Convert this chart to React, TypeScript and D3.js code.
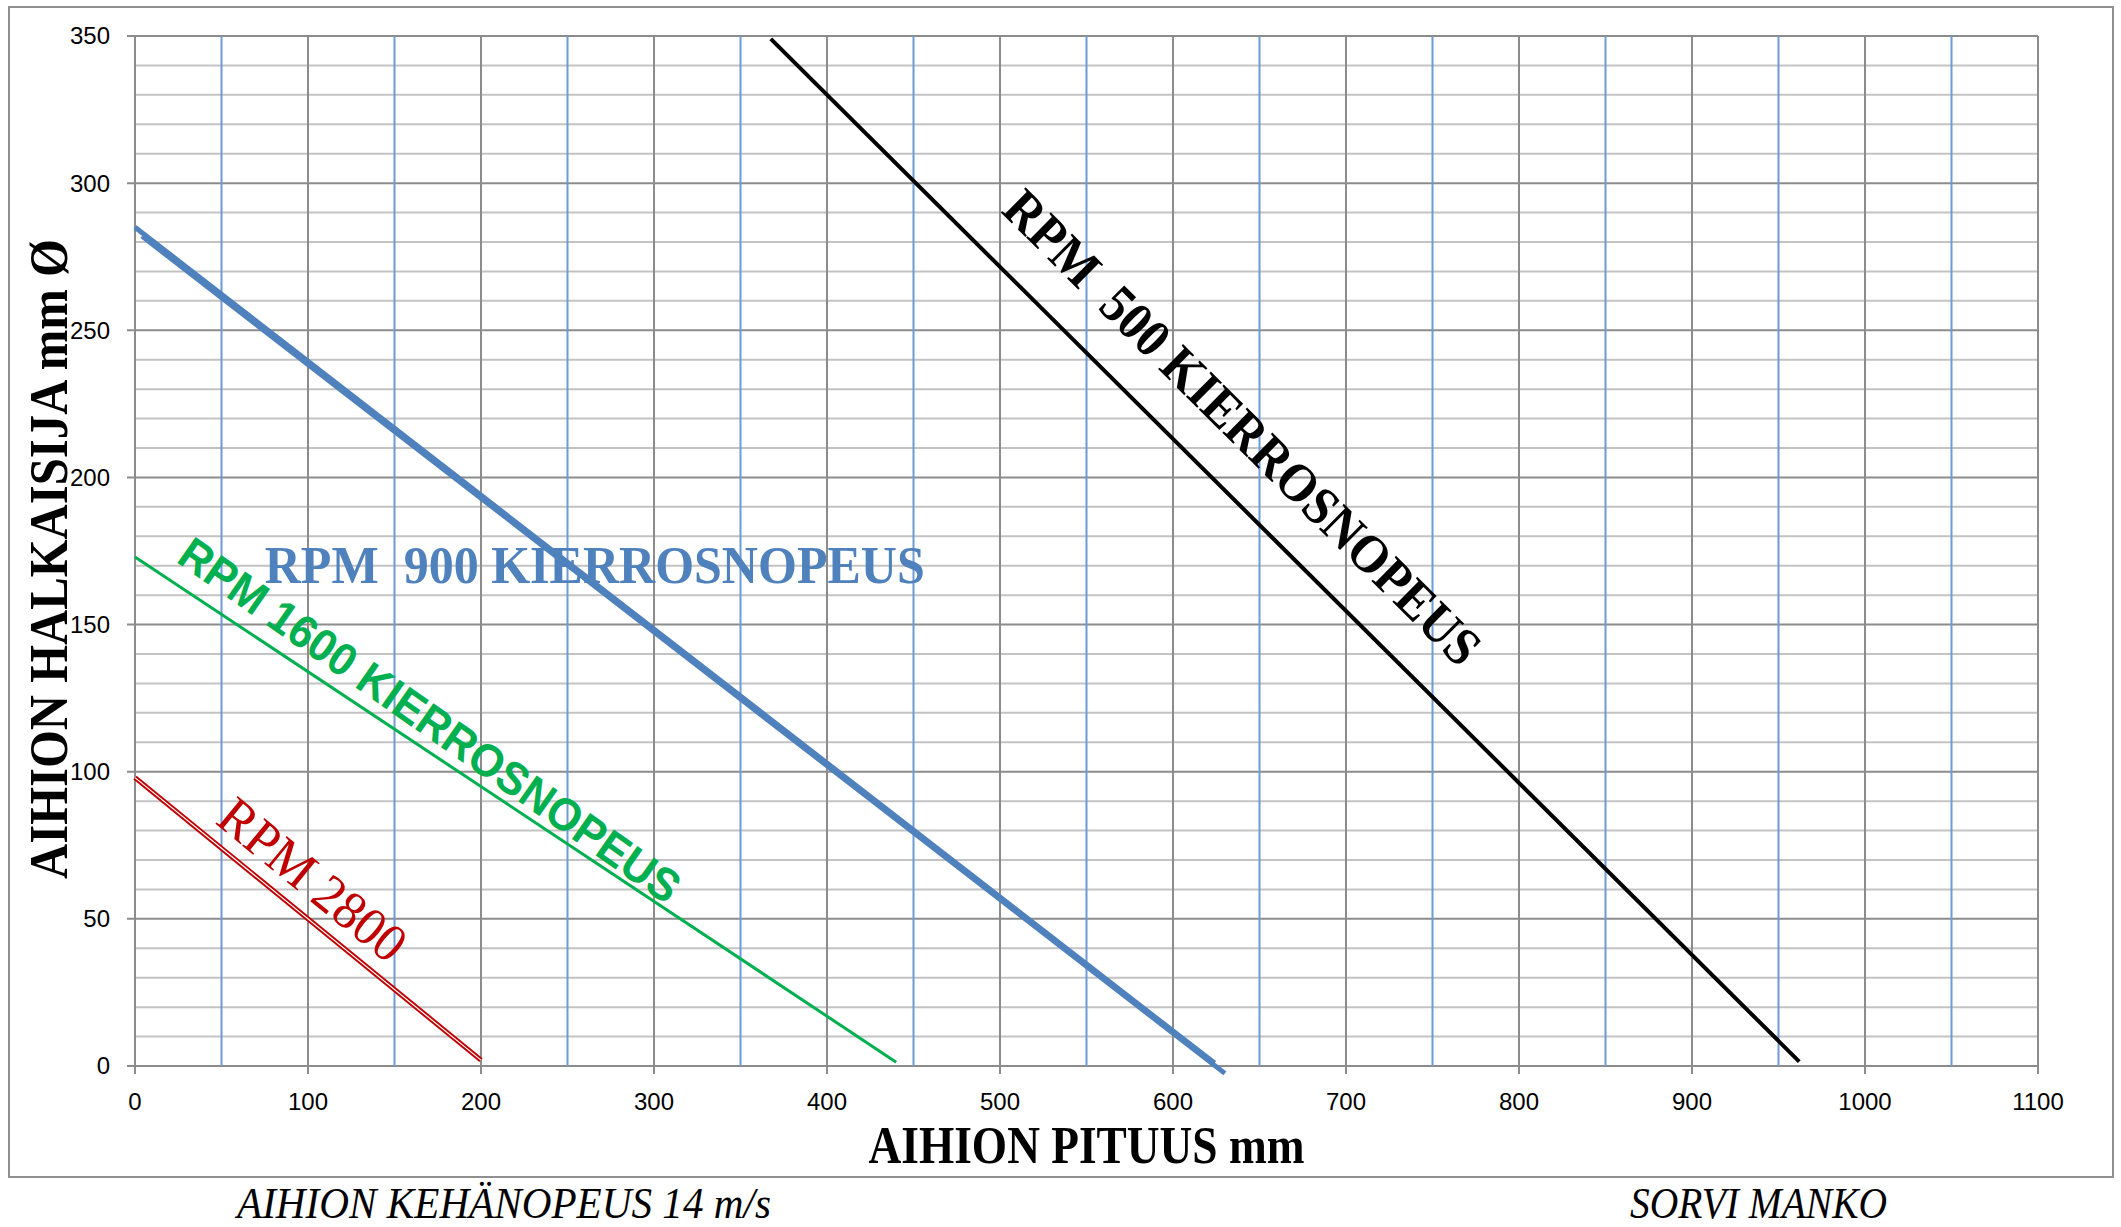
import * as d3 from "d3";

// Axis ticks
const xTickValues = [0, 100, 200, 300, 400, 500, 600, 700, 800, 900, 1000, 1100];
const xBlueLines = [50, 150, 250, 350, 450, 550, 650, 750, 850, 950, 1050];
const yTickValues = [0, 50, 100, 150, 200, 250, 300, 350];
const yMinorLines = [10, 20, 30, 40, 60, 70, 80, 90, 110, 120, 130, 140, 160, 170, 180, 190,
  210, 220, 230, 240, 260, 270, 280, 290, 310, 320, 330, 340];

// Series (AIHION PITUUS mm -> AIHION HALKAISIJA mm)
const rpm500 = [{ x: 367.5, y: 349 }, { x: 962, y: 1.5 }];
const rpm900 = [{ x: 0, y: 285 }, { x: 624, y: 1 }];
const rpm900b = [{ x: 4, y: 282 }, { x: 630, y: -2.5 }];
const rpm1600 = [{ x: 0, y: 173 }, { x: 440, y: 1.3 }];
const rpm2800 = [{ x: 0, y: 98 }, { x: 200, y: 2 }];

// Label texts
const label500 = "RPM  500 KIERROSNOPEUS";
const label900 = "RPM  900 KIERROSNOPEUS";
const label1600 = "RPM 1600 KIERROSNOPEUS";
const label2800 = "RPM 2800";

const W = 2121;
const H = 1227;
const margin = { left: 135, right: 83, top: 36, bottom: 161 };

type P = { x: number; y: number };

const App = () => {
  const x = d3.scaleLinear().domain([0, 1100]).range([margin.left, W - margin.right]);
  const y = d3.scaleLinear().domain([0, 350]).range([H - margin.bottom, margin.top]);
  const line = d3.line<P>().x(d => x(d.x)).y(d => y(d.y));

  const angle = (s: P[]) =>
    (Math.atan2(y(s[1].y) - y(s[0].y), x(s[1].x) - x(s[0].x)) * 180) / Math.PI;

  const serif = "'Liberation Serif', 'DejaVu Serif', serif";
  const sans = "'Liberation Sans', Arial, sans-serif";
  const grid = "#8c8c8c";
  const minor = "#c3c3c3";
  const blueGrid = "#6d9bd5";

  return (
    <svg width={W} height={H} style={{ position: "absolute", left: 0, top: 0, background: "#fff" }}>
      <rect x={9} y={7} width={2104} height={1170} fill="#fff" stroke="#8f8f8f" strokeWidth={2} />

      {/* horizontal grid */}
      {yMinorLines.map(v => (
        <line key={"m" + v} x1={x(0)} x2={x(1100)} y1={y(v)} y2={y(v)} stroke={minor} strokeWidth={2} />
      ))}
      {yTickValues.map(v => (
        <line key={"h" + v} x1={x(0) - 8} x2={x(1100)} y1={y(v)} y2={y(v)} stroke={grid} strokeWidth={2} />
      ))}
      {/* vertical grid */}
      {xBlueLines.map(v => (
        <line key={"b" + v} x1={x(v)} x2={x(v)} y1={y(350)} y2={y(0)} stroke={blueGrid} strokeWidth={2} />
      ))}
      {xTickValues.map(v => (
        <line key={"v" + v} x1={x(v)} x2={x(v)} y1={y(350)} y2={y(0) + 8} stroke={grid} strokeWidth={2} />
      ))}

      {/* tick labels */}
      {yTickValues.map(v => (
        <text key={"yl" + v} x={x(0) - 25} y={y(v)} dy="0.35em" textAnchor="end"
          fontFamily={sans} fontSize={24} fill="#000">{v}</text>
      ))}
      {xTickValues.map(v => (
        <text key={"xl" + v} x={x(v)} y={y(0) + 44} textAnchor="middle"
          fontFamily={sans} fontSize={24} fill="#000">{v}</text>
      ))}

      {/* series */}
      <path d={line(rpm500)!} fill="none" stroke="#000" strokeWidth={4} />
      <path d={line(rpm900)!} fill="none" stroke="#4f81bd" strokeWidth={5} />
      <path d={line(rpm900b)!} fill="none" stroke="#4f81bd" strokeWidth={5} />
      <path d={line(rpm1600)!} fill="none" stroke="#00b050" strokeWidth={3} />
      <path d={line(rpm2800)!} fill="none" stroke="#c00000" strokeWidth={5} />
      <path d={line(rpm2800)!} fill="none" stroke="#fff" strokeWidth={1.2} />

      {/* series labels */}
      <text x={x(75)} y={y(164.2)} fontFamily={serif} fontWeight="bold" fontSize={53}
        fill="#4f81bd" textLength={660} lengthAdjust="spacingAndGlyphs" style={{ whiteSpace: "pre" }}>
        {label900}
      </text>
      <text transform={`translate(${x(640.5)},${y(217.2)}) rotate(${angle(rpm500)})`}
        textAnchor="middle" dy="0.35em" fontFamily={serif} fontWeight="bold" fontSize={54}
        fill="#000" textLength={648} lengthAdjust="spacingAndGlyphs" style={{ whiteSpace: "pre" }}>
        {label500}
      </text>
      <text transform={`translate(${x(170.5)},${y(117.6)}) rotate(${angle(rpm1600) + 1.4})`}
        textAnchor="middle" dy="0.35em" fontFamily={sans} fontWeight="bold" fontSize={46}
        fill="#00b050" textLength={600} lengthAdjust="spacingAndGlyphs">
        {label1600}
      </text>
      <text transform={`translate(${x(103)},${y(63.5)}) rotate(${angle(rpm2800)})`}
        textAnchor="middle" dy="0.35em" fontFamily={serif} fontSize={54}
        fill="#c00000" textLength={225} lengthAdjust="spacingAndGlyphs">
        {label2800}
      </text>

      {/* axis titles */}
      <text x={(x(0) + x(1100)) / 2} y={1163} textAnchor="middle" fontFamily={serif} fontWeight="bold"
        fontSize={52} textLength={436} lengthAdjust="spacingAndGlyphs">AIHION PITUUS mm</text>
      <text transform={`translate(67,${(y(0) + y(350)) / 2 + 8}) rotate(-90)`} textAnchor="middle"
        fontFamily={serif} fontWeight="bold" fontSize={54} textLength={640}
        lengthAdjust="spacingAndGlyphs">AIHION HALKAISIJA mm Ø</text>

      {/* footer */}
      <text x={237} y={1218} fontFamily={serif} fontStyle="italic" fontSize={44}
        textLength={534} lengthAdjust="spacingAndGlyphs">AIHION KEHÄNOPEUS 14 m/s</text>
      <text x={1630} y={1218} fontFamily={serif} fontStyle="italic" fontSize={44}
        textLength={257} lengthAdjust="spacingAndGlyphs">SORVI MANKO</text>
    </svg>
  );
};

export default App;
